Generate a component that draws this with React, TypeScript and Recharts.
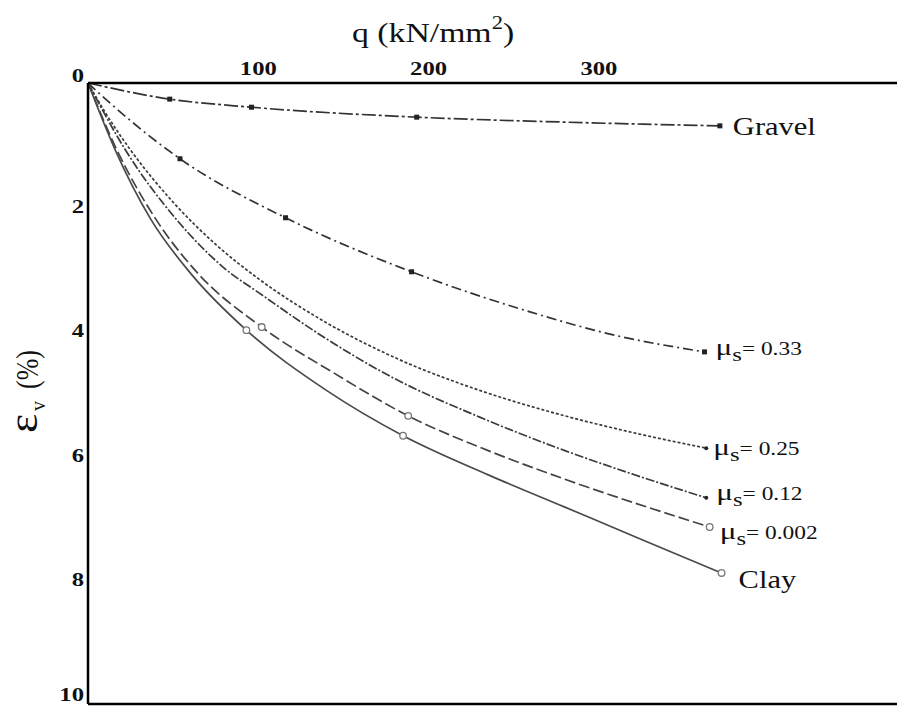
import React from 'react';
import { LineChart, Line, XAxis, YAxis, ReferenceLine } from 'recharts';

// strain curves: q (kN/mm²) against volumetric strain εv (%)
const gravelQ = [0, 48, 96, 193, 280, 371];
const gravelEv = [0, 0.26, 0.39, 0.55, 0.63, 0.69];
const gravelMarks = [48, 96, 193, 371];

const mu033Q = [0, 12, 54, 116, 190, 260, 309, 362];
const mu033Ev = [0, 0.3, 1.22, 2.17, 3.04, 3.69, 4.06, 4.33];
const mu033Marks = [54, 116, 190, 362];

const mu025Q = [0, 10, 25, 50, 75, 100, 140, 180, 230, 280, 320, 363];
const mu025Ev = [0, 0.47, 1.08, 1.92, 2.6, 3.15, 3.86, 4.42, 4.95, 5.36, 5.63, 5.88];
const mu025Marks = [363];

const mu012Q = [0, 22, 52, 80, 102, 140, 180, 230, 280, 320, 363];
const mu012Ev = [0, 1.08, 2.2, 2.98, 3.41, 4.12, 4.76, 5.38, 5.92, 6.3, 6.68];
const mu012Marks = [363];

const mu0002Q = [0, 17, 40, 64, 102, 145, 188, 235, 280, 365];
const mu0002Ev = [0, 1.08, 2.2, 3.05, 3.93, 4.68, 5.36, 5.92, 6.38, 7.15];
const mu0002Marks = [102, 188, 365];

const clayQ = [0, 16, 37, 61, 93, 140, 185, 235, 280, 325, 372];
const clayEv = [0, 1.08, 2.2, 3.09, 3.98, 4.95, 5.68, 6.31, 6.83, 7.35, 7.89];
const clayMarks = [93, 185, 372];

const qTicks = [100, 200, 300];
const evTicks = [0, 2, 4, 6, 8, 10];

const FONT = "'Liberation Serif', 'Times New Roman', serif";
const INK = '#111';

const toRows = (q: number[], ev: number[], marks: number[]) =>
  q.map((v, i) => ({ q: v, ev: ev[i], mark: marks.includes(v) }));

type Series = {
  key: string;
  rows: { q: number; ev: number; mark: boolean }[];
  dash?: string;
  stroke: string;
  marker: 'square' | 'dot' | 'ring';
  mu?: string;
  name?: string;
  dx: number;
  dy: number;
};

const series: Series[] = [
  { key: 'gravel', rows: toRows(gravelQ, gravelEv, gravelMarks), dash: '14 3 3 3', stroke: '#333', marker: 'square', name: 'Gravel', dx: 13, dy: 9 },
  { key: 'mu033', rows: toRows(mu033Q, mu033Ev, mu033Marks), dash: '10 4 2 4', stroke: '#333', marker: 'square', mu: '0.33', dx: 11, dy: 3 },
  { key: 'mu025', rows: toRows(mu025Q, mu025Ev, mu025Marks), dash: '3 2', stroke: '#3a3a3a', marker: 'dot', mu: '0.25', dx: 7, dy: 7 },
  { key: 'mu012', rows: toRows(mu012Q, mu012Ev, mu012Marks), dash: '9 2 2 2', stroke: '#3a3a3a', marker: 'dot', mu: '0.12', dx: 10, dy: 2 },
  { key: 'mu0002', rows: toRows(mu0002Q, mu0002Ev, mu0002Marks), dash: '11 4', stroke: '#444', marker: 'ring', mu: '0.002', dx: 10, dy: 12 },
  { key: 'clay', rows: toRows(clayQ, clayEv, clayMarks), stroke: '#4a4a4a', marker: 'ring', name: 'Clay', dx: 17, dy: 15 },
];

// horizontally widened serif text
const Txt = ({ x, y, sx = 1.22, anchor = 'start', size, weight = 'normal', children }: any) => (
  <text
    transform={`translate(${x},${y}) scale(${sx},1)`}
    textAnchor={anchor}
    fontSize={size}
    fontWeight={weight}
    fontFamily={FONT}
    fill={INK}
  >
    {children}
  </text>
);

const QTick = ({ x, y, payload }: any) => (
  <Txt x={x} y={y - 8} anchor="middle" size={19} weight="bold" sx={1.3}>
    {payload.value}
  </Txt>
);

const EvTick = ({ x, y, payload }: any) => {
  const lift = payload.value === 0 ? 7 : payload.value === 10 ? 4 : 0;
  return (
    <Txt x={x - 4} y={y + 6 - lift} anchor="end" size={19} weight="bold" sx={1.3}>
      {payload.value}
    </Txt>
  );
};

const makeDot = (s: Series) => (p: any) => {
  const { cx, cy, index, payload } = p;
  const last = index === s.rows.length - 1;
  let mark: React.ReactNode = null;
  if (payload.mark) {
    if (s.marker === 'square') mark = <rect x={cx - 2.5} y={cy - 2.5} width={5} height={5} fill="#222" />;
    else if (s.marker === 'dot') mark = <circle cx={cx} cy={cy} r={2} fill="#222" />;
    else mark = <circle cx={cx} cy={cy} r={3.3} fill="#fff" stroke="#777" strokeWidth={1.3} />;
  }
  let label: React.ReactNode = null;
  if (last) {
    const lx = cx + s.dx;
    const ly = cy + s.dy;
    label = s.name ? (
      <Txt x={lx} y={ly} size={25} sx={1.22}>{s.name}</Txt>
    ) : (
      <Txt x={lx} y={ly} size={18} sx={1.3}>
        <tspan fontSize={24}>μ</tspan>
        <tspan fontSize={19} dy={6}>s</tspan>
        <tspan dy={-6}>= {s.mu}</tspan>
      </Txt>
    );
  }
  return (
    <g key={`${s.key}-${index}`}>
      {mark}
      {label}
    </g>
  );
};

export default function App() {
  return (
    <div style={{ position: 'absolute', left: 0, top: 0, width: 897, height: 708, background: '#fff' }}>
      <LineChart width={897} height={708} margin={{ top: 53, right: 0, bottom: 4, left: 28 }}>
        <XAxis
          type="number"
          dataKey="q"
          orientation="top"
          domain={[0, 475]}
          ticks={qTicks}
          height={30}
          axisLine={{ stroke: '#000', strokeWidth: 2.5 }}
          tickLine={false}
          tickSize={0}
          tickMargin={0}
          tick={<QTick />}
          allowDataOverflow
        />
        <YAxis
          type="number"
          reversed
          domain={[0, 10]}
          ticks={evTicks}
          width={60}
          axisLine={{ stroke: '#000', strokeWidth: 2.5 }}
          tickLine={false}
          tickSize={0}
          tickMargin={0}
          tick={<EvTick />}
          allowDataOverflow
        />
        <ReferenceLine y={10} stroke="#000" strokeWidth={2.5} />
        {series.map((s) => (
          <Line
            key={s.key}
            data={s.rows}
            dataKey="ev"
            type="monotone"
            stroke={s.stroke}
            strokeWidth={1.7}
            strokeDasharray={s.dash}
            dot={makeDot(s)}
            activeDot={false}
            isAnimationActive={false}
          />
        ))}
        {/* axis titles */}
        <Txt x={352} y={42} size={27} sx={1.25}>
          q (kN/mm<tspan fontSize={18} dy={-13}>2</tspan>
          <tspan dy={13}>)</tspan>
        </Txt>
        <text transform="translate(37,433) rotate(-90) scale(1.35,1.15)" fontFamily={FONT} fontSize={34} fill={INK}>ε</text>
        <text transform="translate(45,411) rotate(-90)" fontFamily={FONT} fontSize={20} fill={INK}>v</text>
        <text transform="translate(38,389) rotate(-90) scale(1,1.2)" fontFamily={FONT} fontSize={26} fill={INK}>(%)</text>
      </LineChart>
    </div>
  );
}
